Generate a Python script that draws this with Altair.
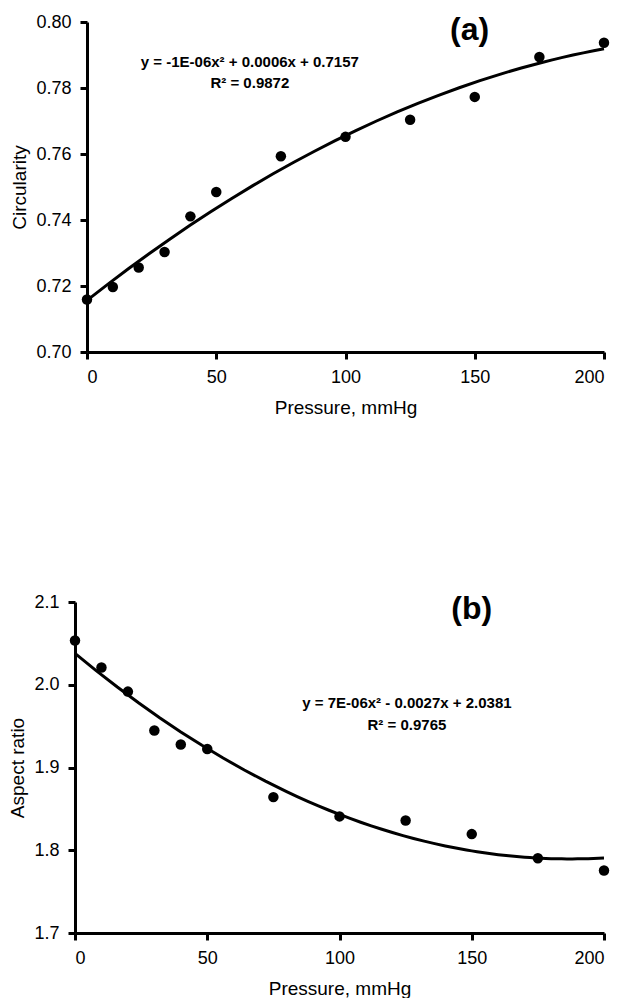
import altair as alt
import pandas as pd

# ---- data ----
pressure = [0, 10, 20, 30, 40, 50, 75, 100, 125, 150, 175, 200]
circularity = [0.7159, 0.7197, 0.7256, 0.7303, 0.7411, 0.7485, 0.7593,
               0.7652, 0.7704, 0.7773, 0.7894, 0.7937]
aspect_ratio = [2.0535, 2.0208, 1.9917, 1.9447, 1.9277, 1.9224, 1.8642,
                1.8409, 1.8360, 1.8195, 1.7904, 1.7756]

x_ticks = [0, 50, 100, 150, 200]
circ_ticks = [0.70, 0.72, 0.74, 0.76, 0.78, 0.80]
ar_ticks = [1.7, 1.8, 1.9, 2.0, 2.1]

eq_a = ["y = -1E-06x² + 0.0006x + 0.7157", "R² = 0.9872"]
eq_b = ["y = 7E-06x² - 0.0027x + 2.0381", "R² = 0.9765"]
panel_labels = ["(a)", "(b)"]

FONT = "Liberation Sans"


def text_layer(txt, xv, yv, size, weight="bold"):
    return alt.Chart(pd.DataFrame({"t": [txt]})).mark_text(
        font=FONT, fontSize=size, fontWeight=weight, color="black",
        align="center", baseline="middle"
    ).encode(x=alt.datum(xv), y=alt.datum(yv), text="t:N")


def panel(yvals, ytitle, ticks, domain, fmt, width, height, inset,
          eq, eq_xy, lab, lab_xy):
    df = pd.DataFrame({"Pressure": pressure, "Value": yvals})
    xs = alt.Scale(domain=[0, 200], nice=False, zero=False, range=[inset, width])
    ys = alt.Scale(domain=domain, nice=False, zero=False)
    base = alt.Chart(df)
    pts = base.mark_circle(size=110, color="black", opacity=1).encode(
        x=alt.X("Pressure:Q", scale=xs,
                axis=alt.Axis(values=x_ticks, title="Pressure, mmHg", format="d")),
        y=alt.Y("Value:Q", scale=ys,
                axis=alt.Axis(values=ticks, format=fmt, title=ytitle, offset=-inset)),
    )
    fit = base.transform_regression(
        "Pressure", "Value", method="poly", order=2, extent=[0, 200]
    ).mark_line(color="black", strokeWidth=3).encode(
        x="Pressure:Q", y="Value:Q"
    )
    t1 = text_layer(eq[0], eq_xy[0], eq_xy[1], 15)
    t2 = text_layer(eq[1], eq_xy[0], eq_xy[2], 15)
    t3 = text_layer(lab, lab_xy[0], lab_xy[1], 32)
    return alt.layer(fit, pts, t1, t2, t3).properties(width=width, height=height)


pa = panel(circularity, "Circularity", circ_ticks, [0.70, 0.80], ".2f", 529, 330, 12,
           eq_a, (63, 0.7879, 0.7815), panel_labels[0], (148, 0.7975))
pb = panel(aspect_ratio, "Aspect ratio", ar_ticks, [1.7, 2.1], ".1f", 529, 331, 0,
           eq_b, (125.5, 1.978, 1.951), panel_labels[1], (150, 2.0915))

chart = alt.vconcat(pa, pb, spacing=176).properties(
    padding={"left": 0, "top": 5, "right": 0, "bottom": 0},
).configure_axis(
    domainColor="black", domainWidth=3, tickColor="black", tickWidth=3,
    tickSize=7, labelFont=FONT, labelFontSize=18, labelColor="black",
    titleFont=FONT, titleFontSize=19, titleFontWeight="normal",
    titleColor="black", labelPadding=9, grid=False,
).configure_axisX(titlePadding=12).configure_axisY(titlePadding=6).configure_view(
    stroke=None
)

chart.save("out.html", embed_options={"renderer": "svg", "actions": False})
